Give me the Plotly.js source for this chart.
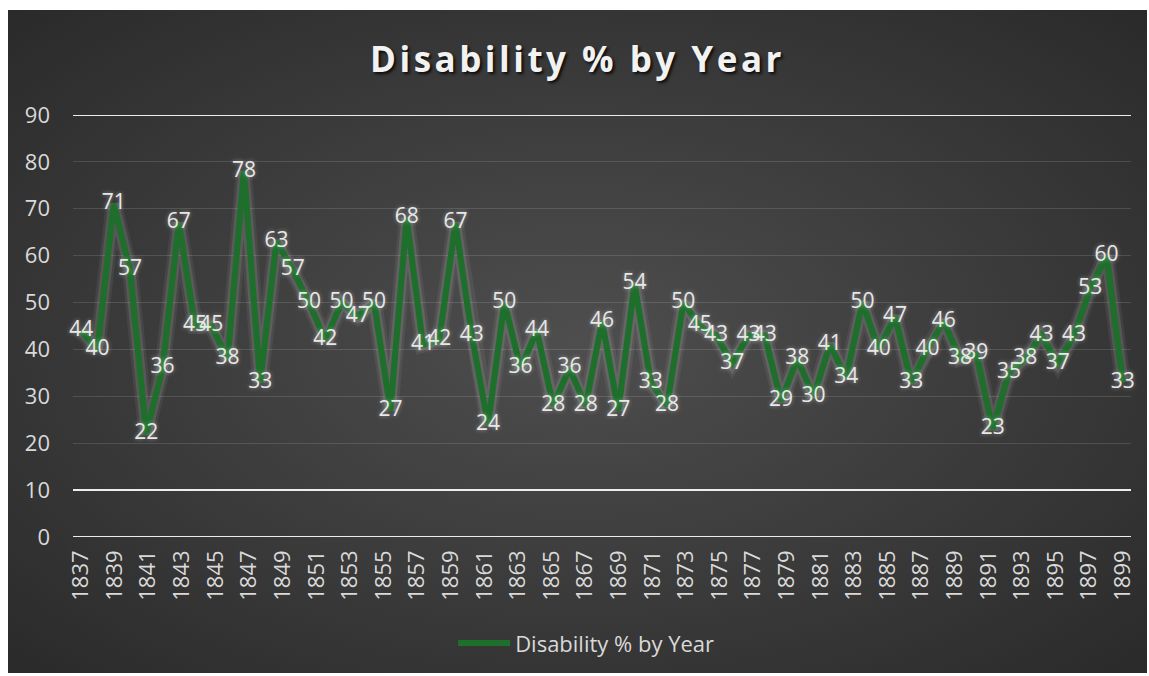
<!DOCTYPE html>
<html>
<head>
<meta charset="utf-8">
<script src="https://cdn.plot.ly/plotly-3.0.1.min.js"></script>
<style>
  html, body { margin: 0; padding: 0; background: #ffffff; width: 1149px; height: 676px; overflow: hidden; }
  #frame {
    position: absolute; left: 8px; top: 10px; width: 1139px; height: 663px;
    background: radial-gradient(ellipse at 50% 50%, #4e4e4e 0%, #3e3e3e 45%, #2a2a2a 100%);
  }
  #chart { width: 1139px; height: 663px; }
</style>
</head>
<body>
<div id="frame"><div id="chart"></div></div>
<script>
// Data (data labels, left to right)
const seriesName = "Disability % by Year";
const disabilityPct = [44, 40, 71, 57, 22, 36, 67, 45, 45, 38,
                       78, 33, 63, 57, 50, 42, 50, 47, 50, 27,
                       68, 41, 42, 67, 43, 24, 50, 36, 44, 28,
                       36, 28, 46, 27, 54, 33, 28, 50, 45, 43,
                       37, 43, 43, 29, 38, 30, 41, 34, 50, 40,
                       47, 33, 40, 46, 38, 39, 23, 35, 38, 43,
                       37, 43, 53, 60, 33];
const tickYears = [1837, 1839, 1841, 1843, 1845, 1847, 1849, 1851, 1853, 1855,
                   1857, 1859, 1861, 1863, 1865, 1867, 1869, 1871, 1873, 1875,
                   1877, 1879, 1881, 1883, 1885, 1887, 1889, 1891, 1893, 1895,
                   1897, 1899];
const yTicks = [0, 10, 20, 30, 40, 50, 60, 70, 80, 90];
const brightGridLines = [0, 10, 90];

const idx = disabilityPct.map((_, i) => i);
const n = disabilityPct.length;
const firstYear = tickYears[0], lastYear = tickYears[tickYears.length - 1];
const tickPos = tickYears.map(y => (y - firstYear) / (lastYear - firstYear) * (n - 1));

const FONT = "Open Sans, Noto Sans, sans-serif";

const glow = {
  x: idx, y: disabilityPct, type: "scatter", mode: "lines",
  line: { color: "rgba(230,230,230,0.07)", width: 16 },
  hoverinfo: "skip", showlegend: false
};
const glow2 = {
  x: idx, y: disabilityPct, type: "scatter", mode: "lines",
  line: { color: "rgba(230,230,230,0.12)", width: 11 },
  hoverinfo: "skip", showlegend: false
};
const main = {
  x: idx, y: disabilityPct, type: "scatter", mode: "lines+text",
  name: seriesName,
  line: { color: "#1d6f2b", width: 6 },
  text: disabilityPct.map(String),
  textposition: "middle center",
  textfont: { family: FONT, size: 21, color: "#e8e8e8", shadow: "0px 0px 4px rgba(255,255,255,0.45)" },
  cliponaxis: false
};

const shapes = brightGridLines.map(v => ({
  type: "line", xref: "paper", x0: 0, x1: 1, yref: "y", y0: v, y1: v,
  line: { color: "#ececec", width: 2 }, layer: "below"
}));

const layout = {
  width: 1139, height: 663,
  paper_bgcolor: "rgba(0,0,0,0)", plot_bgcolor: "rgba(0,0,0,0)",
  margin: { l: 65, r: 16, t: 105, b: 136, autoexpand: false },
  title: {
    text: "<b>Disability % by Year</b>",
    x: 0.5, xref: "container", xanchor: "center",
    y: 0.925, yref: "container", yanchor: "middle",
    font: { family: FONT, size: 35, color: "#f2f2f2", shadow: "2px 2px 3px rgba(0,0,0,0.8)" }
  },
  xaxis: {
    range: [-0.5, n - 0.5], automargin: false,
    tickmode: "array", tickvals: tickPos, ticktext: tickYears.map(String),
    tickangle: -90, ticks: "", showgrid: false, zeroline: false, showline: false,
    tickfont: { family: FONT, size: 22, color: "#d9d9d9" },
    ticklabelstandoff: 8, fixedrange: true
  },
  yaxis: {
    range: [0, 90], automargin: false, tickmode: "array", tickvals: yTicks,
    ticks: "", showgrid: true, gridcolor: "rgba(255,255,255,0.13)", gridwidth: 1,
    zeroline: false, showline: false,
    tickfont: { family: FONT, size: 22, color: "#d9d9d9" },
    ticklabelstandoff: 22, fixedrange: true
  },
  shapes: shapes,
  showlegend: true,
  legend: {
    orientation: "h", x: 0.485, xanchor: "center",
    yref: "container", y: 0.045, yanchor: "middle",
    font: { family: FONT, size: 22, color: "#d9d9d9" },
    itemwidth: 52, bgcolor: "rgba(0,0,0,0)"
  }
};

Plotly.newPlot("chart", [glow, glow2, main], layout, { staticPlot: true, displayModeBar: false }).then(() => {
  document.querySelectorAll(".gtitle").forEach(el => { el.style.letterSpacing = "3.5px"; });
});
</script>
</body>
</html>
